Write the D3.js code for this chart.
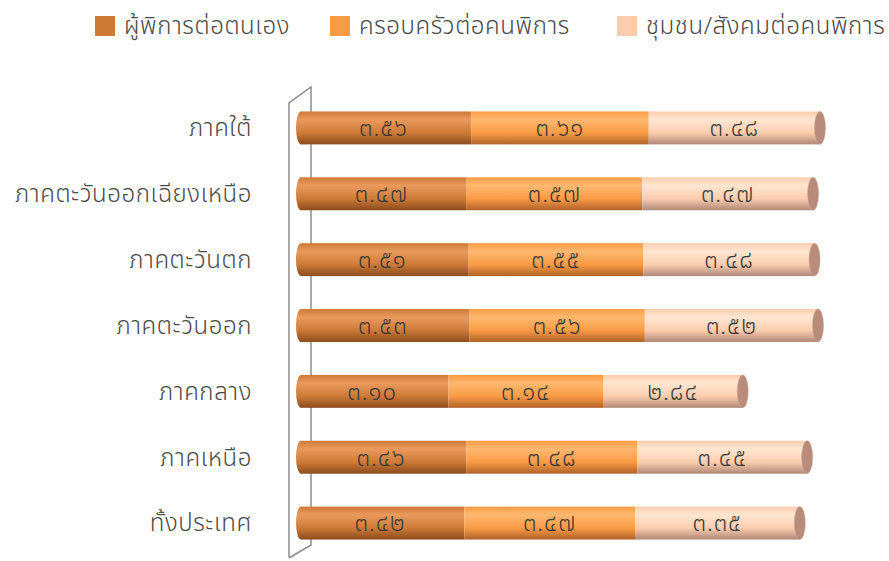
<!DOCTYPE html>
<html>
<head>
<meta charset="utf-8">
<script src="https://cdn.jsdelivr.net/npm/d3@7"></script>
<style>
  body { margin: 0; background: #fff; }
  text { font-family: "Noto Sans Thai", "Noto Sans", "DejaVu Sans", sans-serif; font-weight: 300; }
</style>
</head>
<body>
<div class="chart"></div>
<script>
var width = 889, height = 561;

// categories, top to bottom
var regions = ['ภาคใต้', 'ภาคตะวันออกเฉียงเหนือ', 'ภาคตะวันตก', 'ภาคตะวันออก', 'ภาคกลาง', 'ภาคเหนือ', 'ทั้งประเทศ'];
var seriesNames = ['ผู้พิการต่อตนเอง', 'ครอบครัวต่อคนพิการ', 'ชุมชน/สังคมต่อคนพิการ'];
var selfValues = [3.56, 3.47, 3.51, 3.53, 3.10, 3.46, 3.42];
var familyValues = [3.61, 3.57, 3.55, 3.56, 3.14, 3.48, 3.47];
var communityValues = [3.48, 3.47, 3.48, 3.52, 2.84, 3.45, 3.35];

var colors = [
  {light: '#E99A5C', base: '#CD7A37', dark: '#8C4C1C'},
  {light: '#FFB870', base: '#F99B45', dark: '#B0622A'},
  {light: '#FFE6D2', base: '#FBCDAE', dark: '#B08878'}
];
var capColor = '#B88B7A';

var thaiDigits = '๐๑๒๓๔๕๖๗๘๙';
function toThai(v) {
  return v.toFixed(2).replace(/[0-9]/g, (c) => thaiDigits[+c]);
}

var table = regions.map((r, i) => ({
  region: r,
  values: [selfValues[i], familyValues[i], communityValues[i]]
}));
var stacked = d3.stack().keys([0, 1, 2]).value((d, k) => d.values[k])(table);

var svg = d3.select('.chart')
  .append('svg')
  .attr('width', width)
  .attr('height', height);

var defs = svg.append('defs');
colors.forEach((c, i) => {
  var g = defs.append('linearGradient')
    .attr('id', 'grad' + i)
    .attr('x1', 0).attr('y1', 0).attr('x2', 0).attr('y2', 1);
  g.append('stop').attr('offset', '0%').attr('stop-color', c.base);
  g.append('stop').attr('offset', '25%').attr('stop-color', c.light);
  g.append('stop').attr('offset', '65%').attr('stop-color', c.base);
  g.append('stop').attr('offset', '100%').attr('stop-color', c.dark);
});

var xScale = d3.scaleLinear()
  .domain([0, 11])
  .range([296, 296 + 11 * 49.2]);

var yScale = d3.scaleBand()
  .domain(regions)
  .range([95, 556])
  .paddingInner(0.5)
  .paddingOuter(0.25);

var bh = yScale.bandwidth();

// 3D wall
svg.append('path')
  .attr('d', 'M289,557 L289,103 L311,87 L311,545 L289,558')
  .attr('fill', 'none')
  .attr('stroke', '#8c8c8c')
  .attr('stroke-width', 1.5);

// category labels
svg.append('g')
  .selectAll('text')
  .data(regions)
  .enter()
  .append('text')
  .attr('x', 252)
  .attr('y', (d) => yScale(d) + bh / 2)
  .attr('dy', '0.35em')
  .attr('text-anchor', 'end')
  .attr('font-size', 24)
  .attr('letter-spacing', 0.6)
  .attr('fill', '#4a4a4a')
  .text((d) => d);

// left rounded ends
svg.append('g')
  .selectAll('ellipse')
  .data(table)
  .enter()
  .append('ellipse')
  .attr('cx', xScale(0) + 5)
  .attr('cy', (d) => yScale(d.region) + bh / 2)
  .attr('rx', 5)
  .attr('ry', bh / 2)
  .attr('fill', 'url(#grad0)');

// segments
var layers = svg.selectAll('.layer')
  .data(stacked)
  .enter()
  .append('g')
  .attr('class', 'layer')
  .attr('fill', (d, i) => 'url(#grad' + i + ')');

layers.selectAll('rect')
  .data((d) => d)
  .enter()
  .append('rect')
  .attr('x', (d) => xScale(d[0]) + (d[0] === 0 ? 5 : 0))
  .attr('y', (d) => yScale(d.data.region))
  .attr('width', (d) => xScale(d[1]) - xScale(d[0]) - (d[0] === 0 ? 5 : 0))
  .attr('height', bh);

// right end caps
svg.append('g')
  .selectAll('ellipse')
  .data(stacked[2])
  .enter()
  .append('ellipse')
  .attr('cx', (d) => xScale(d[1]))
  .attr('cy', (d) => yScale(d.data.region) + bh / 2)
  .attr('rx', 5.5)
  .attr('ry', bh / 2)
  .attr('fill', capColor)
  .attr('stroke', '#c9a99a')
  .attr('stroke-width', 0.5);

// value labels
layers.selectAll('text')
  .data((d) => d)
  .enter()
  .append('text')
  .attr('x', (d) => (xScale(d[0]) + xScale(d[1])) / 2)
  .attr('y', (d) => yScale(d.data.region) + bh / 2)
  .attr('dy', '0.35em')
  .attr('text-anchor', 'middle')
  .attr('font-size', 24)
  .attr('letter-spacing', 1)
  .attr('fill', '#3a3a3a')
  .text((d) => toThai(d[1] - d[0]));

// legend
var legendX = [95, 330, 617];
var legend = svg.append('g')
  .selectAll('g')
  .data(seriesNames)
  .enter()
  .append('g')
  .attr('transform', (d, i) => 'translate(' + legendX[i] + ',16)');

legend.append('rect')
  .attr('width', 20)
  .attr('height', 20)
  .attr('fill', (d, i) => colors[i].base);

legend.append('text')
  .attr('x', 29)
  .attr('y', 10)
  .attr('dy', '0.35em')
  .attr('font-size', 24)
  .attr('letter-spacing', 0.6)
  .attr('fill', '#4a4a4a')
  .text((d) => d);
</script>
</body>
</html>
